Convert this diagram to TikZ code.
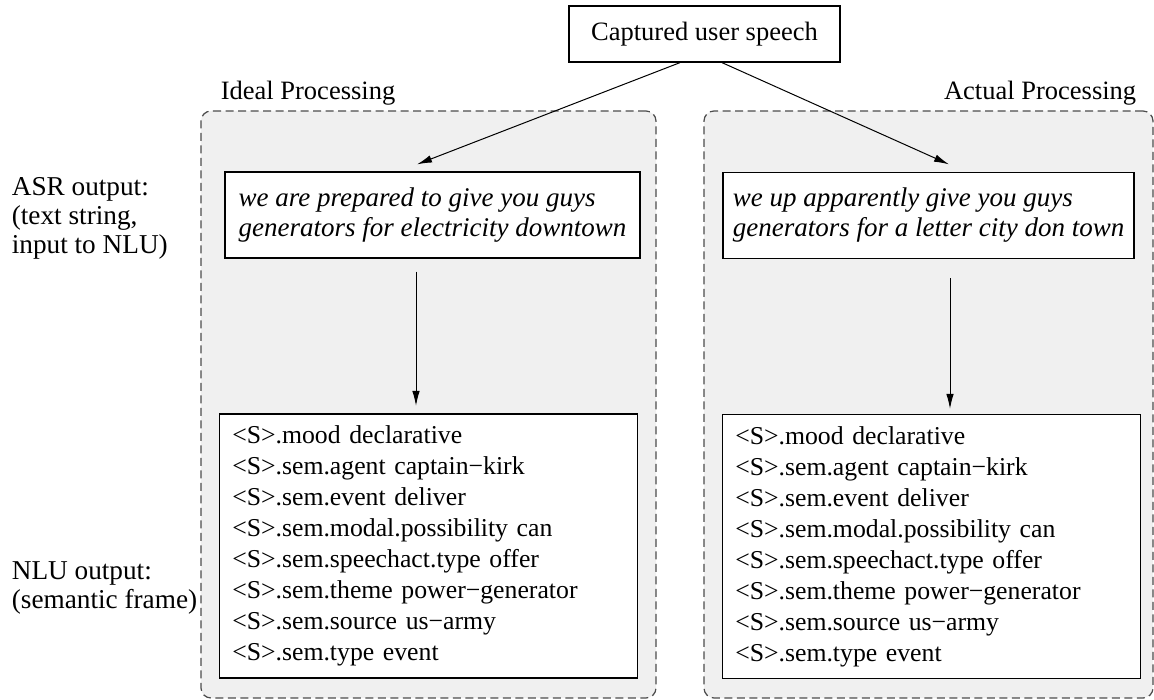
\documentclass[tikz,border=0pt]{standalone}
\usepackage{fontspec}
\setmainfont{Liberation Serif}
\usetikzlibrary{arrows.meta}

\definecolor{panelgray}{RGB}{240,240,240}

\tikzset{
  box/.style={draw, fill=white, line width=0.5pt, inner sep=0pt},
  panel/.style={draw=black!70, fill=panelgray, dash pattern=on 3.2pt off 1.8pt, line width=0.5pt, rounded corners=4pt, inner sep=0pt},
  frametext/.style={box, align=left, text width=157pt, inner xsep=5.2pt, minimum height=105.6pt},
  asrtext/.style={box, align=left, font=\itshape\fontsize{10.8}{12}\selectfont, minimum height=34.4pt},
  rowlabel/.style={anchor=west, align=left, font=\fontsize{10.9}{11.6}\selectfont},
  link/.style={-{Latex[length=6pt,width=3pt]}, line width=0.4pt},
}

\begin{document}
\begin{tikzpicture}[x=0.4pt, y=-0.4pt, font=\fontsize{10.3}{12.4}\selectfont]
    \useasboundingbox (0,0) rectangle (1154,700);

    % grey panels
    \node[panel, minimum width=182pt, minimum height=234.8pt] (panelL) at (428.5,404.5) {};
    \node[panel, minimum width=179.6pt, minimum height=234.8pt] (panelR) at (928.5,404.5) {};

    \node[anchor=west, font=\fontsize{10.6}{12}\selectfont] (ideal) at (212,93) {Ideal Processing};
    \node[anchor=east, font=\fontsize{10.6}{12}\selectfont] (actual) at (1145,93) {Actual Processing};

    % captured speech
    \node[box, minimum width=108.4pt, minimum height=22.4pt, font=\fontsize{10.6}{12}\selectfont] (speech) at (704.5,34) {Captured user speech};

    % ASR output
    \node[asrtext, minimum width=166pt] (asrL) at (432.5,215) {we are prepared to give you guys\\generators for electricity downtown};
    \node[asrtext, minimum width=164.4pt] (asrR) at (928.5,215.5) {we up apparently give you guys\\generators for a letter city don town};

    % NLU output
    \node[frametext] (nluL) at (428.5,546) {%
        <S>.mood declarative\\
        <S>.sem.agent captain−kirk\\
        <S>.sem.event deliver\\
        <S>.sem.modal.possibility can\\
        <S>.sem.speechact.type offer\\
        <S>.sem.theme power−generator\\
        <S>.sem.source us−army\\
        <S>.sem.type event};
    \node[frametext] (nluR) at (931.5,546.5) {%
        <S>.mood declarative\\
        <S>.sem.agent captain−kirk\\
        <S>.sem.event deliver\\
        <S>.sem.modal.possibility can\\
        <S>.sem.speechact.type offer\\
        <S>.sem.theme power−generator\\
        <S>.sem.source us−army\\
        <S>.sem.type event};

    % row labels
    \node[rowlabel] (asrlab) at (3,218) {ASR output:\\(text string,\\input to NLU)};
    \node[rowlabel] (nlulab) at (3,588) {NLU output:\\(semantic frame)};

    % arrows
    \coordinate (inL) at ([xshift=-6.2pt,yshift=2.8pt]asrL.north);
    \coordinate (inR) at ([xshift=8.2pt,yshift=3pt]asrR.north);
    \draw[link] ([xshift=-9.8pt]speech.south) -- (inL);
    \draw[link] ([xshift=7pt]speech.south) -- (inR);

    \draw[link, shorten <=5.2pt, shorten >=3pt] ([xshift=-6.6pt]asrL.south) -- ([xshift=-6.6pt]asrL.south |- nluL.north);
    \draw[link, shorten <=7.6pt, shorten >=2pt] ([xshift=8.6pt]asrR.south) -- ([xshift=8.6pt]asrR.south |- nluR.north);

\end{tikzpicture}
\end{document}
